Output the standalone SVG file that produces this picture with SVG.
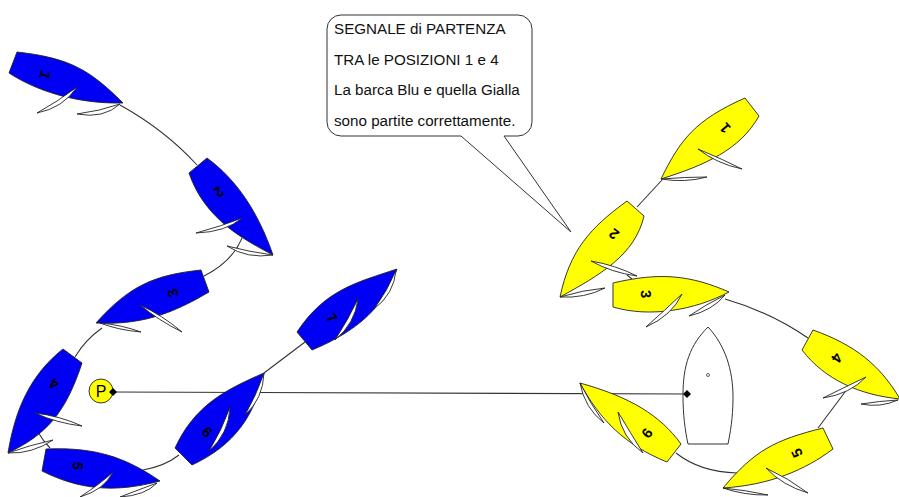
<svg xmlns="http://www.w3.org/2000/svg" width="899" height="497" viewBox="0 0 899 497">
<style>
.c{fill:none;stroke:#333;stroke-width:1.1}
.b{fill:#0000f4;stroke:#222;stroke-width:.9}
.y{fill:#ffff00;stroke:#222;stroke-width:.9}
.s{fill:#fff;stroke:#222;stroke-width:.9}
.n{font:bold 14.5px "Liberation Sans",Arial,sans-serif;text-anchor:middle;fill:#000}
.t{font:15.2px "Liberation Sans",Arial,sans-serif;fill:#111}
.k{fill:#000}
</style>
<g id="connectors">
<path class="c" d="M120 105Q165 130 197 165"/>
<path class="c" d="M242 238Q232 262 204 276"/>
<path class="c" d="M102 328Q85 340 75 357"/>
<path class="c" d="M38 432Q43 441 50 448"/>
<path class="c" d="M143 470Q165 466 179 455"/>
<path class="c" d="M264 373L305 342"/>
<path class="c" d="M662 180L637 207"/>
<path class="c" d="M627 275L632 279"/>
<path class="c" d="M725 299Q770 312 808 338"/>
<path class="c" d="M845 392L818 428"/>
<path class="c" d="M737 473Q700 472 676 453"/>
<path class="c" d="M113 392L686 394"/>
</g>
<g id="blue-1"><path class="b" d="M17 52L9 73C35 90 75 104 123 103C90 70 70 58 17 52Z"/><path class="s" d="M77 87Q57 102 37 113Q63 108 77 87Z"/><path class="s" d="M120 104Q100 111 77 114Q103.500 119 120 104Z"/><text class="n" transform="translate(45 75) rotate(110)" y="5">1</text></g>
<g id="blue-2"><path class="b" d="M207 158L189 173C205 220 245 240 273 255C258 212 237 180 207 158Z"/><path class="s" d="M242 218Q222 226 196 233Q226 232 242 218Z"/><path class="s" d="M273 255Q250 252 227 246Q247 259 273 255Z"/><text class="n" transform="translate(219 192) rotate(142)" y="5">2</text></g>
<g id="blue-3"><path class="b" d="M201 270L209 292C170 315 140 325 96 323C130 285 155 275 201 270Z"/><path class="s" d="M140 305Q162 315 182 332Q158 320 140 305Z"/><path class="s" d="M100 323Q122 325 141 332Q118 330 100 323Z"/><text class="n" transform="translate(173 293) rotate(251)" y="5">3</text></g>
<g id="blue-4"><path class="b" d="M63 349L82 363C65 415 45 435 8 453C15 410 30 375 63 349Z"/><path class="s" d="M35 413Q60 416 82 426Q56.500 423 35 413Z"/><path class="s" d="M8 453Q30 445 53 440Q32 454 8 453Z"/><text class="n" transform="translate(54 384) rotate(208)" y="5">4</text></g>
<g id="blue-5"><path class="b" d="M46 449L42 471C80 490 115 493 160 481C125 457 95 447 46 449Z"/><path class="s" d="M113 472Q100 484 80 497Q104 490 113 472Z"/><path class="s" d="M157 483Q138 490 120 497Q145 495.500 157 483Z"/><text class="n" transform="translate(78 466) rotate(98)" y="5">5</text></g>
<g id="blue-6"><path class="b" d="M175 448L192 465C235 445 255 415 264 373C225 390 195 405 175 448Z"/><path class="s" d="M230 407Q222 430 209 451Q229 433.500 230 407Z"/><path class="s" d="M264 373Q256 396 245 415Q263 399 264 373Z"/><text class="n" transform="translate(207 432) rotate(43)" y="5">6</text></g>
<g id="blue-7"><path class="b" d="M297 332L312 350C360 330 385 305 397 269C355 283 325 290 297 332Z"/><path class="s" d="M358 299Q348 320 335 340Q355 323.500 358 299Z"/><path class="s" d="M396 270Q388 290 374 309Q394 294 396 270Z"/><text class="n" transform="translate(332 318) rotate(51)" y="5">7</text></g>
<g id="mark-p"><circle cx="101" cy="391" r="12" fill="#ffff00" stroke="#222" stroke-width=".9"/><text x="101" y="396.500" text-anchor="middle" font-family="Liberation Sans, Arial, sans-serif" font-size="16" fill="#000">P</text><path class="k" d="M113 388L117 392L113 396L109 392Z"/></g>
<g id="yellow-1"><path class="y" d="M745 98L759 116C740 150 705 165 661 179C680 140 695 120 745 98Z"/><path class="s" d="M698 149Q720 158 742 169Q716.500 163.500 698 149Z"/><path class="s" d="M661 179Q685 177 707 177Q685 183 661 179Z"/><text class="n" transform="translate(725 128) rotate(229)" y="5">1</text></g>
<g id="yellow-2"><path class="y" d="M627 201L644 216C635 255 600 275 560 297C570 250 590 228 627 201Z"/><path class="s" d="M591 261Q615 265 637 276Q611.500 272.500 591 261Z"/><path class="s" d="M560 297Q583 290 605 288Q584.500 298.500 560 297Z"/><text class="n" transform="translate(614 234) rotate(218)" y="5">2</text></g>
<g id="yellow-3"><path class="y" d="M613 283L613 307C650 318 695 310 729 292C690 275 660 272 613 283Z"/><path class="s" d="M682 294Q665 310 646 327Q672 315.500 682 294Z"/><path class="s" d="M725 295Q705 305 689 316Q712.500 310.500 725 295Z"/><text class="n" transform="translate(646 294) rotate(88)" y="5">3</text></g>
<g id="yellow-4"><path class="y" d="M813 330L802 350C825 380 860 395 900 399C880 365 855 345 813 330Z"/><path class="s" d="M866 377Q843 388 823 398Q850 394 866 377Z"/><path class="s" d="M898 400Q880 401 861 404Q880 408 898 400Z"/><text class="n" transform="translate(837 358) rotate(124)" y="5">4</text></g>
<g id="yellow-5"><path class="y" d="M823 428L833 449C805 470 770 485 723 488C755 450 775 440 823 428Z"/><path class="s" d="M766 468Q788 478 808 493Q782.500 485.500 766 468Z"/><path class="s" d="M723 488Q745 490 768 495Q745 495.500 723 488Z"/><text class="n" transform="translate(797 453) rotate(245)" y="5">5</text></g>
<g id="yellow-6"><path class="y" d="M681 444L667 462C625 445 600 420 580 383C630 397 660 415 681 444Z"/><path class="s" d="M618 412Q630 432 643 453Q621.500 437.500 618 412Z"/><path class="s" d="M580 383Q590 403 604 423Q584.500 408 580 383Z"/><text class="n" transform="translate(647 433) rotate(304)" y="5">6</text></g>
<g id="committee-boat"><path fill="#fff" stroke="#333" stroke-width="1" d="M708 327C690 345 683 365 683 395C683 415 685 430 688 444L728 444C732 425 733 410 733 397C733 370 725 345 708 327Z"/><circle cx="708" cy="375" r="1.500" fill="#fff" stroke="#222" stroke-width=".7"/><path class="k" d="M687 390L691 394L687 398L683 394Z"/></g>
<g id="callout"><path fill="#fff" stroke="#333" stroke-width="1" d="M341 15H518A14 14 0 0 1 532 29V122A14 14 0 0 1 518 136H504L571 232L461 136H341A14 14 0 0 1 327 122V29A14 14 0 0 1 341 15Z"/>
<text class="t" x="334" y="34">SEGNALE di PARTENZA</text>
<text class="t" x="334" y="65">TRA le POSIZIONI 1 e 4</text>
<text class="t" x="334" y="95">La barca Blu e quella Gialla</text>
<text class="t" x="334" y="126">sono partite correttamente.</text></g>
</svg>
